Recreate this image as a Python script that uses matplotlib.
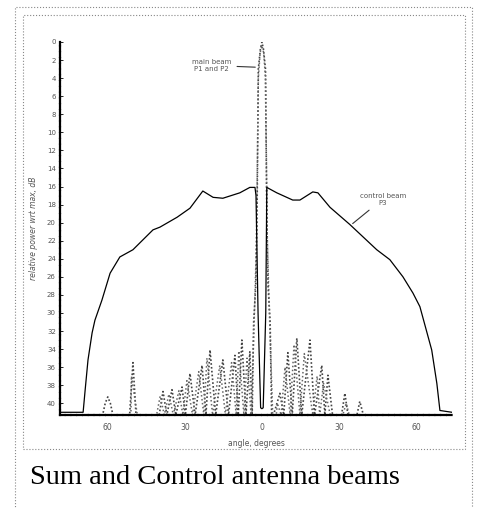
import matplotlib.pyplot as plt
from matplotlib.patches import Rectangle

# control beam P3 (solid)
ctrl_ang = [-79, -69.6, -68.8, -67.7, -66.1, -65, -62.3, -59.1, -55.3, -50.2, -42.4, -39.7,
            -33, -28, -23, -19, -15.2, -8.6, -4.7, -2.7, -2.3, -1.5, -0.5, 0, 0.5, 1.5,
            1.9, 5.8, 12, 14.8, 19.8, 21.8, 26.5, 34.2, 44.7, 49.8, 54.9, 58.8, 61.5,
            66.1, 68.1, 69.3, 74]
ctrl_db = [-41, -41, -38.5, -35.2, -32.2, -30.8, -28.6, -25.6, -23.8, -23.0, -20.8, -20.5,
           -19.4, -18.4, -16.5, -17.2, -17.3, -16.7, -16.1, -16.1, -17, -30, -40.5, -40.6,
           -40.5, -30, -16.1, -16.7, -17.5, -17.5, -16.6, -16.7, -18.3, -20.2, -23.0, -24.1,
           -26.0, -27.8, -29.3, -34.1, -37.8, -40.8, -41]

# main beam P1 (dotted)
p1_ang = [-79, -62, -61, -60, -59, -58, -51.5, -50.2, -49, -40, -38.5, -37, -35, -33.5,
          -31.1, -29.8, -28, -26, -23.3, -21.8, -20.2, -18, -15.2, -13, -10.5, -9.2,
          -7.8, -6.2, -4.7, -3.8, -3.2, -2.4, -1.9, -1.6, -1.4, -0.6, 0, 0.6, 1.4, 1.6,
          1.9, 2.4, 3.2, 3.8, 4.5, 7, 8.5, 10.1, 11.8, 13.6, 15.5, 18.7, 20.5, 23.3,
          24.5, 25.7, 27.5, 31, 32.3, 33.5, 37, 38.1, 39.5, 74]
p1_db = [-41.3, -41.3, -40, -39.3, -40, -41.3, -41.3, -35.5, -41.3, -41.3, -38.7, -41.3,
         -38.5, -41.3, -38.2, -41.3, -36.7, -41.3, -35.8, -41.3, -34.1, -41.3, -35.2,
         -41.3, -34.7, -41.3, -33.0, -41.3, -34.3, -41.3, -31, -27, -19, -10, -3, -0.8, 0,
         -0.8, -3, -10, -19, -27, -31, -41.3, -41.3, -38.9, -41.3, -34.4, -41.3, -32.8,
         -41.3, -33.0, -41.3, -35.8, -41.3, -36.9, -41.3, -41.3, -38.9, -41.3, -41.3,
         -39.8, -41.3, -41.3]

# main beam P2 (dotted)
p2_ang = [-79, -56, -51, -50.8, -48.5, -41, -39.6, -38, -36.2, -34.5, -32.3, -30.8, -29.2,
          -27, -24.6, -22.6, -21.4, -19.2, -16.4, -14.2, -11.8, -10, -9, -7, -5.8, -4.2,
          -2.8, -2.1, -1.7, -1.4, -0.7, 0, 0.7, 1.4, 1.7, 2.1, 2.8, 4.2, 5.6, 6, 7.5,
          9, 11, 12.5, 14.8, 16.5, 19.8, 21.5, 22.5, 24, 26.6, 28.5, 31.5, 32.8, 34,
          74]
p2_db = [-41.3, -41.3, -41.3, -37, -41.3, -41.3, -39.2, -41.3, -39, -41.3, -38.6, -41.3,
         -37.5, -41.3, -36.5, -41.3, -35, -41.3, -35.8, -41.3, -35.5, -41.3, -34.2, -41.3,
         -35, -41.3, -29, -22, -12, -4, -1.2, -0.4, -1.2, -4, -12, -22, -29, -41.3,
         -41.3, -40, -41.3, -36, -41.3, -33.5, -41.3, -34.5, -41.3, -37, -41.3, -37.8,
         -41.3, -41.3, -41.3, -40, -41.3, -41.3]

yticks = list(range(0, -41, -2))
xticks = [-60, -30, 0, 30, 60]
xlabels = ['60', '30', '0', '30', '60']

fig = plt.figure(figsize=(4.79, 5.08), dpi=100)
ax = fig.add_axes([60 / 479, 1 - 415 / 508, 392 / 479, 373 / 508])

ax.plot(p1_ang, p1_db, color='#444444', lw=1.2, linestyle=(0, (1, 1.3)))
ax.plot(p2_ang, p2_db, color='#666666', lw=1.1, linestyle=(0, (1, 1.6)))
ax.plot(ctrl_ang, ctrl_db, color='black', lw=0.9)

ax.set_xlim(-78.6, 74)
ax.set_ylim(-41.3, 0)
ax.set_yticks(yticks)
ax.set_yticklabels([str(-v) for v in yticks], fontsize=5, color='#555555')
ax.set_xticks(xticks)
ax.set_xticklabels(xlabels, fontsize=5.5, color='#555555')
ax.tick_params(axis='y', direction='in', length=2, width=0.6, pad=3)
ax.tick_params(axis='x', length=0, pad=6)
for s in ['top', 'right']:
    ax.spines[s].set_visible(False)
ax.spines['left'].set_linewidth(1.6)
ax.spines['bottom'].set_linewidth(1.6)
ax.spines['left'].set_linestyle((0, (2, 0.6)))
ax.spines['bottom'].set_linestyle((0, (2, 0.6)))
ax.set_ylabel('relative power wrt max, dB', fontsize=5.5, color='#555555',
              style='italic', labelpad=6)
ax.set_xlabel('angle, degrees', fontsize=5.5, color='#555555', labelpad=5)

ax.annotate('main beam\nP1 and P2', xy=(-1.5, -2.8), xytext=(-19.5, -2.6),
            fontsize=5, color='#555555', ha='center', va='center',
            arrowprops=dict(arrowstyle='-', color='#333333', lw=0.8))
ax.annotate('control beam\nP3', xy=(34.5, -20.3), xytext=(47, -17.4),
            fontsize=5, color='#555555', ha='center', va='center',
            arrowprops=dict(arrowstyle='-', color='#333333', lw=0.8))

# dotted frames
fig.patches.append(Rectangle((15 / 479, -0.01), 457 / 479, 1 - 7 / 508 + 0.01,
                             transform=fig.transFigure, fill=False,
                             ls=':', lw=0.8, ec='#888888'))
fig.patches.append(Rectangle((23 / 479, 1 - 449 / 508), 442 / 479, 434 / 508,
                             transform=fig.transFigure, fill=False,
                             ls=':', lw=0.8, ec='#888888'))

fig.text(30 / 479, 1 - 478 / 508, 'Sum and Control antenna beams',
         fontsize=20.5, family='Liberation Serif', va='center', ha='left')

fig.savefig('out.png', dpi=100)
